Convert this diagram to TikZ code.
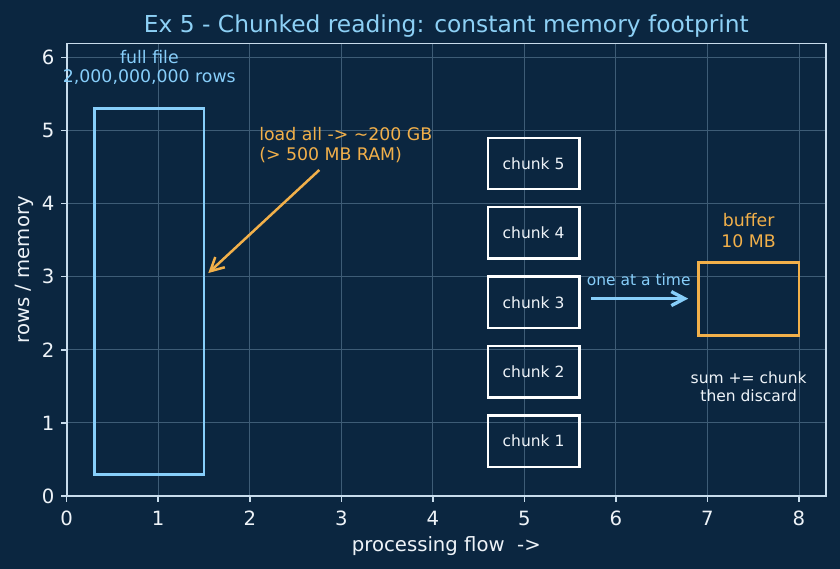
\documentclass[tikz,border=0pt]{standalone}
\usepackage{fontspec}
\setmainfont{DejaVu Sans}
\usetikzlibrary{arrows.meta}
\definecolor{bg}{HTML}{0B2640}
\definecolor{gridc}{HTML}{3E5C76}
\definecolor{spinec}{HTML}{C8DCEC}
\definecolor{ltblue}{HTML}{87CEFA}
\definecolor{titlec}{HTML}{8DD0F5}
\definecolor{orangec}{HTML}{F2B04A}
\definecolor{txtc}{HTML}{EEF3F8}
\tikzset{
  gridline/.style={gridc, line width=0.55pt},
  spine/.style={spinec, line width=1.1pt},
  tickmark/.style={spinec, line width=0.9pt},
  ticklab/.style={text=txtc, inner sep=0pt, font=\fontsize{11.8}{14}\selectfont},
  axlab/.style={text=txtc, inner sep=0pt, font=\fontsize{11.8}{14}\selectfont},
  chunkbox/.style={draw=white, line width=1.5pt, text=txtc, inner sep=0pt,
    minimum width=54.92pt, minimum height=30.70pt, font=\fontsize{9.3}{11}\selectfont},
  smalltxt/.style={inner sep=0pt, font=\fontsize{9.3}{11}\selectfont},
  midtxt/.style={inner sep=0pt, font=\fontsize{10.4}{12}\selectfont},
  headarrow/.style={-{Straight Barb[length=8pt,width=8.4pt]}},
}
\begin{document}
\begin{tikzpicture}[x=54.92pt,y=43.86pt]
\fill[bg] (-0.7286,-0.9986) rectangle (8.448,6.785);
\useasboundingbox (-0.7286,-0.9986) rectangle (8.448,6.785);
% grid
\foreach \i in {0,...,8} \draw[gridline] (\i,0) -- (\i,6.19);
\foreach \j in {0,...,6} \draw[gridline] (0,\j) -- (8.295,\j);
% spines
\draw[spine] (0,0) rectangle (8.295,6.19);
% ticks
\foreach \i in {0,...,8} {
  \draw[tickmark] (\i,0) -- ++(0,-3.5pt);
  \node[ticklab, anchor=base] (xt\i) at (\i,-0.397) {\i};
}
\foreach \j in {0,...,6} {
  \draw[tickmark] (0,\j) -- ++(-3.5pt,0);
  \node[ticklab, anchor=east] (yt\j) at (-0.13,\j) {\j};
}
% axis labels and title
\node[axlab, anchor=base] (xlab) at (4.1475,-0.762) {processing flow\ \ ->};
\node[axlab, anchor=base, rotate=90] (ylab) at (-0.4086,3.095) {rows / memory};
\node[inner sep=0pt, anchor=base, text=titlec, font=\fontsize{14}{16}\selectfont] (title) at (4.1475,6.343) {Ex 5 - Chunked reading: constant memory footprint};
% full file
\node[draw=ltblue, line width=1.75pt, inner sep=0pt, minimum width=65.90pt, minimum height=219.3pt] (file) at (0.9,2.8) {};
\node[midtxt, text=ltblue, anchor=base] (filet1) at (0.903,5.919) {full file};
\node[midtxt, text=ltblue, anchor=base] (filet2) at (0.903,5.654) {2,000,000,000 rows};
% load all annotation
\node[midtxt, text=orangec, anchor=base west] (load1) at (2.10,4.860) {load all -> \textasciitilde200 GB};
\node[midtxt, text=orangec, anchor=base west] (load2) at (2.10,4.583) {(> 500 MB RAM)};
\coordinate (loadsrc) at (2.76,4.46);
\coordinate (loadtip) at (1.547,3.05);
\draw[orangec, line width=1.5pt, headarrow] (loadsrc) -- (loadtip);
% chunks
\foreach \k in {1,...,5} {
  \node[chunkbox] (c\k) at (5.1,{0.75+0.95*(\k-1)}) {chunk \k};
}
% one at a time
\node[smalltxt, text=ltblue, anchor=base] (oneat) at (6.249,2.886) {one at a time};
\coordinate (onesrc) at (5.73,2.70);
\coordinate (onetip) at (6.79,2.70);
\draw[ltblue, line width=2pt, headarrow] (onesrc) -- (onetip);
% buffer
\node[draw=orangec, line width=1.75pt, inner sep=0pt, minimum width=60.41pt, minimum height=43.86pt] (buffer) at (7.45,2.7) {};
\node[midtxt, text=orangec, anchor=base] (buf1) at (7.45,3.684) {buffer};
\node[midtxt, text=orangec, anchor=base] (buf2) at (7.45,3.397) {10 MB};
% sum
\node[smalltxt, text=txtc, anchor=base] (sum1) at (7.45,1.544) {sum += chunk};
\node[smalltxt, text=txtc, anchor=base] (sum2) at (7.45,1.290) {then discard};
\end{tikzpicture}
\end{document}
